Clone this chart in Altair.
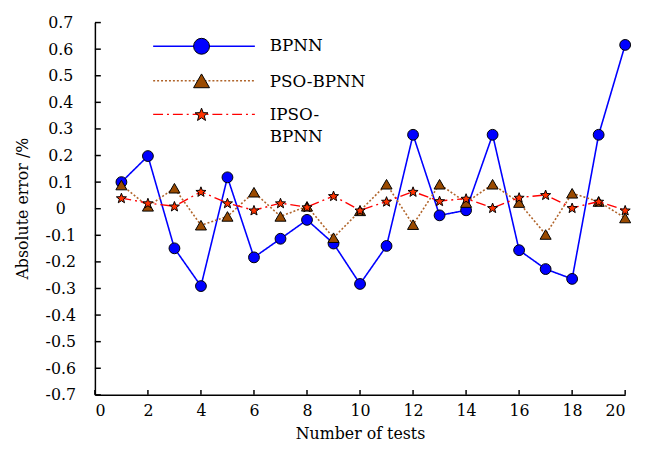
import math
import altair as alt
import pandas as pd

tests = list(range(1, 21))
series_names = ["BPNN", "PSO-BPNN", "IPSO-BPNN"]
bpnn = [0.10, 0.198, -0.149, -0.291, 0.118, -0.183, -0.113, -0.042, -0.131, -0.283,
        -0.14, 0.278, -0.025, -0.006, 0.278, -0.156, -0.227, -0.264, 0.278, 0.616]
pso_bpnn = [0.089, 0.009, 0.077, -0.062, -0.029, 0.062, -0.029, 0.009, -0.109, -0.008,
            0.092, -0.06, 0.092, 0.023, 0.092, 0.023, -0.097, 0.058, 0.027, -0.035]
ipso_bpnn = [0.04, 0.021, 0.009, 0.064, 0.021, -0.006, 0.021, 0.006, 0.048, -0.006,
             0.027, 0.064, 0.029, 0.038, 0.003, 0.042, 0.052, 0.003, 0.027, -0.006]
legend_labels = ["BPNN", "PSO-BPNN", "IPSO-\nBPNN"]
x_ticks = list(range(0, 21, 2))
y_ticks = [round(-0.7 + 0.1 * i, 1) for i in range(15)]

rows = []
for name, vals in zip(series_names, [bpnn, pso_bpnn, ipso_bpnn]):
    for t, v in zip(tests, vals):
        rows.append({"test": t, "series": name, "value": v})
df = pd.DataFrame(rows)

# star symbol path in [-1,1]
pts = []
for k in range(10):
    r = 1.0 if k % 2 == 0 else 0.42
    a = -math.pi / 2 + k * math.pi / 5
    pts.append(f"{r*math.cos(a):.3f},{r*math.sin(a)+0.08:.3f}")
star = "M" + "L".join(pts) + "Z"

FONT = "DejaVu Serif"
styles = {
    "BPNN": dict(line="#0000FF", dash=[1, 0], lw=1.6, shape="circle", fill="#0000FF", size=120, lsize=260),
    "PSO-BPNN": dict(line="#B0642A", dash=[2, 2], lw=1.6, shape="triangle-up", fill="#9A4A00", size=125, lsize=260),
    "IPSO-BPNN": dict(line="#FF0000", dash=[10, 4, 2, 4], lw=1.4, shape=star, fill="#FF3300", size=115, lsize=190),
}

xscale = alt.Scale(domain=[0, 20], nice=False, zero=False)
yscale = alt.Scale(domain=[-0.7, 0.7], nice=False, zero=False)

xaxis = alt.Axis(orient="bottom", values=x_ticks, ticks=False, tickSize=0, domainColor="black", domainWidth=1.5,
                 labelFont=FONT, labelFontSize=16, labelColor="black", labelPadding=8,
                 title="Number of tests", titleFont=FONT, titleFontSize=16, titleFontWeight="normal",
                 titleColor="black", titleY=44, titleBaseline="alphabetic", grid=False)
yaxis = alt.Axis(orient="left", values=y_ticks, ticks=False, tickSize=0, domainColor="black", domainWidth=1.5,
                 labelFont=FONT, labelFontSize=16, labelColor="black", labelAlign="center",
                 labelPadding=35, labelBaseline="middle",
                 labelExpr="datum.value == 0 ? '0' : replace(format(datum.value, '.1f'), '\u2212', '-')",
                 title="Absolute error /%", titleFont=FONT, titleFontSize=16, titleFontWeight="normal",
                 titleColor="black", titleX=-73, titleY=188, titleBaseline="middle", grid=False)

X = lambda f: alt.X(f, scale=xscale, axis=xaxis)
Y = lambda f: alt.Y(f, scale=yscale, axis=yaxis)

main_layers = []
for i, name in enumerate(series_names):
    s = styles[name]
    base = alt.Chart(df).transform_filter(alt.datum.series == name)
    line = base.mark_line(color=s["line"], strokeDash=s["dash"], strokeWidth=s["lw"]).encode(
        x=X("test:Q"), y=Y("value:Q"))
    pt = base.mark_point(shape=s["shape"], filled=True, fill=s["fill"], stroke="black",
                         strokeWidth=1, size=s["size"], opacity=1).encode(
        x=X("test:Q"), y=Y("value:Q"))
    main_layers += [line, pt]

# inward tick marks
xt = alt.Chart(pd.DataFrame({"t": x_ticks})).mark_rule(color="black", strokeWidth=1.5).encode(
    x=X("t:Q"), y=alt.value(377), y2=alt.value(372))
yt = alt.Chart(pd.DataFrame({"v": y_ticks})).mark_rule(color="black", strokeWidth=1.5).encode(
    y=Y("v:Q"), x=alt.value(0), x2=alt.value(6))

# legend
leg_y = [24, 59, 93]
txt_y = [24, 60, 94]
legend_layers = []
one = pd.DataFrame({"k": [0]})
for i, name in enumerate(series_names):
    s = styles[name]
    legend_layers.append(alt.Chart(one).mark_rule(color=s["line"], strokeDash=s["dash"], strokeWidth=s["lw"]).encode(
        x=alt.value(59), x2=alt.value(162), y=alt.value(leg_y[i])))
    legend_layers.append(alt.Chart(one).mark_point(shape=s["shape"], filled=True, fill=s["fill"], stroke="black",
                                                   strokeWidth=1, size=s["lsize"], opacity=1).encode(
        x=alt.value(108), y=alt.value(leg_y[i])))
    legend_layers.append(alt.Chart(one).mark_text(text=legend_labels[i], align="left", baseline="middle",
                                                  font=FONT, fontSize=17, color="black", lineBreak="\n",
                                                  lineHeight=22).encode(
        x=alt.value(177), y=alt.value(txt_y[i])))

chart = alt.layer(*main_layers, xt, yt, *legend_layers).properties(
    width=537, height=377,
    background="white",
    autosize=alt.AutoSizeParams(type="none"),
    padding={"left": 88, "top": 12, "right": 13, "bottom": 45},
).configure_view(strokeWidth=0)

chart.save("out.html", embed_options={"renderer": "svg", "actions": False})
